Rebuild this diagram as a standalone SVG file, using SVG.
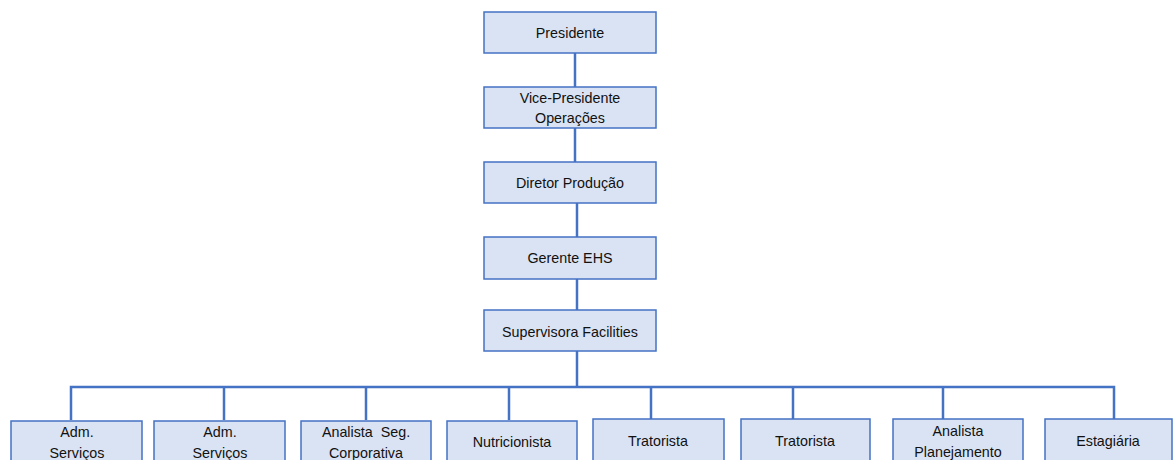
<svg xmlns="http://www.w3.org/2000/svg" width="1174" height="460" viewBox="0 0 1174 460">
<style>
.box{fill:#dae3f3;stroke:#4472c4;stroke-width:1.5}
.t{font-family:"Liberation Sans",Arial,sans-serif;font-size:14.3px;fill:#111111;text-anchor:middle}
.c{stroke:#4472c4;stroke-width:2.5;fill:none}
</style>
<rect width="1174" height="460" fill="#ffffff"/>
<g id="connectors">
<line class="c" x1="575" y1="53" x2="575" y2="87"/>
<line class="c" x1="575" y1="128" x2="575" y2="162"/>
<line class="c" x1="577" y1="203" x2="577" y2="237"/>
<line class="c" x1="577" y1="279" x2="577" y2="310"/>
<line class="c" x1="577" y1="351" x2="577" y2="387"/>
<polyline class="c" points="71,420 71,387 1114,387 1114,420"/>
<line class="c" x1="224" y1="387" x2="224" y2="420"/>
<line class="c" x1="366" y1="387" x2="366" y2="420"/>
<line class="c" x1="509" y1="387" x2="509" y2="420"/>
<line class="c" x1="651" y1="387" x2="651" y2="419"/>
<line class="c" x1="793" y1="387" x2="793" y2="419"/>
<line class="c" x1="943" y1="387" x2="943" y2="419"/>
</g>
<g id="presidente"><rect class="box" x="484" y="12" width="172" height="41"/><text class="t" x="570" y="38">Presidente</text></g>
<g id="vice"><rect class="box" x="484" y="87" width="172" height="41"/><text class="t" x="570" y="103">Vice-Presidente</text><text class="t" x="570" y="123">Operações</text></g>
<g id="diretor"><rect class="box" x="484" y="162" width="172" height="41"/><text class="t" x="570" y="188">Diretor Produção</text></g>
<g id="gerente"><rect class="box" x="484" y="237" width="172" height="42"/><text class="t" x="570" y="263">Gerente EHS</text></g>
<g id="supervisora"><rect class="box" x="484" y="310" width="172" height="41"/><text class="t" x="570" y="337">Supervisora Facilities</text></g>
<g id="adm1"><rect class="box" x="11" y="421" width="131" height="42"/><text class="t" x="77" y="437">Adm.</text><text class="t" x="77" y="458">Serviços</text></g>
<g id="adm2"><rect class="box" x="154" y="421" width="131" height="42"/><text class="t" x="220" y="437">Adm.</text><text class="t" x="220" y="458">Serviços</text></g>
<g id="analista-seg"><rect class="box" x="301" y="421" width="130" height="42"/><text class="t" x="366" y="437" xml:space="preserve">Analista  Seg.</text><text class="t" x="366" y="458">Corporativa</text></g>
<g id="nutricionista"><rect class="box" x="447" y="421" width="130" height="42"/><text class="t" x="512" y="447">Nutricionista</text></g>
<g id="tratorista1"><rect class="box" x="593" y="419" width="131" height="42"/><text class="t" x="658" y="446">Tratorista</text></g>
<g id="tratorista2"><rect class="box" x="741" y="419" width="129" height="42"/><text class="t" x="805" y="446">Tratorista</text></g>
<g id="analista-plan"><rect class="box" x="893" y="419" width="130" height="42"/><text class="t" x="958" y="436">Analista</text><text class="t" x="958" y="457">Planejamento</text></g>
<g id="estagiaria"><rect class="box" x="1045" y="419" width="127" height="42"/><text class="t" x="1108" y="446">Estagiária</text></g>
</svg>
